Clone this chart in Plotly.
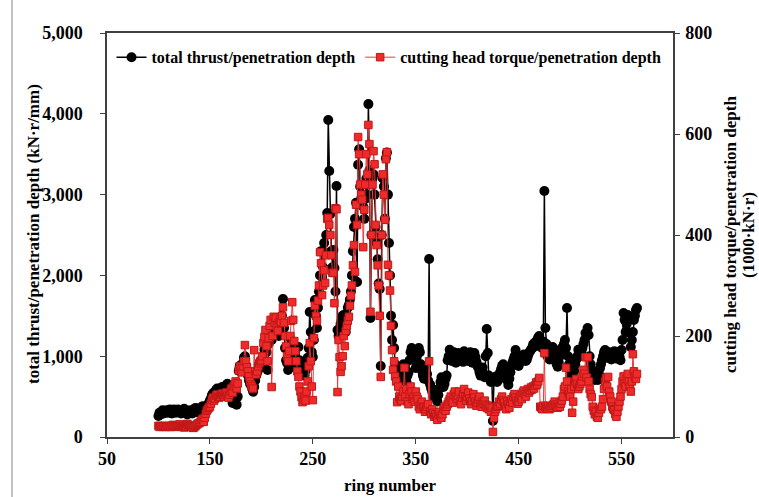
import plotly.graph_objects as go

rings = list(range(100, 566))

thrust = [
    260, 300, 280, 310, 330, 290, 300, 320, 330, 300,
    320, 340, 300, 290, 330, 340, 310, 300, 320, 340,
    320, 300, 290, 310, 330, 350, 320, 300, 280, 300,
    310, 330, 300, 290, 320, 340, 360, 330, 310, 300,
    320, 350, 370, 380, 360, 340, 350, 380, 400, 420,
    450, 480, 520, 540, 510, 560, 580, 600, 570, 540,
    560, 600, 620, 580, 560, 600, 640, 660, 620, 580,
    540, 500, 420, 450, 480, 560, 400, 500, 820, 880,
    860, 900, 840, 980, 1000, 880, 820, 760, 700, 660,
    640, 600, 560, 620, 700, 760, 800, 840, 900, 860,
    900, 920, 1000, 1080, 1200, 1050, 830, 1150, 1250, 1320,
    1200, 1280, 1350, 1300, 1400, 1448, 1350, 1250, 1300, 1400,
    1500, 1708, 1350, 1100, 950, 915, 830, 900, 1050, 1200,
    1150, 1050, 950, 900, 860, 920, 1114, 950, 880, 850,
    830, 800, 760, 820, 900, 980, 1100, 1547, 1300, 1050,
    990, 1200, 1695, 1500, 1350, 1600, 1800, 2000, 2300, 1980,
    2100, 2400, 2277, 2500, 2772, 3923, 3292, 2760, 2300, 2100,
    2314, 2092, 1800, 3106, 1324, 1250, 1300, 1400, 1450, 1500,
    1510, 1400, 1300, 1500, 1600, 1634, 1700, 1800, 2000, 2300,
    2600, 2700, 2900, 1918, 3370, 3560, 3100, 2950, 3000, 2850,
    2700, 2950, 3200, 3000, 4120, 3300, 1473, 2500, 3200, 3250,
    3000, 2600, 2400, 2200, 1900, 1832, 879, 2500, 3200, 3100,
    2700, 3450, 3520, 3000, 2400, 2000, 1500, 1200, 1386, 1100,
    900, 850, 820, 792, 760, 700, 750, 800, 900, 850,
    720, 680, 760, 800, 950, 1050, 1100, 1000, 1080, 950,
    854, 1000, 1077, 1100, 1050, 900, 820, 760, 720, 800,
    866, 780, 700, 2203, 650, 600, 560, 495, 520, 582,
    470, 440, 520, 600, 680, 740, 700, 620, 660, 720,
    760, 950, 1000, 1080, 990, 940, 1020, 1050, 980, 920,
    1000, 1040, 980, 950, 1010, 990, 930, 1060, 1020, 960,
    1000, 940, 980, 1050, 1010, 920, 960, 1040, 990, 930,
    880, 850, 800, 760, 820, 860, 780, 740, 1000, 1337,
    1040, 760, 720, 680, 700, 198, 690, 720, 750, 680,
    700, 760, 800, 840, 880, 900, 860, 820, 780, 700,
    644, 720, 800, 880, 920, 960, 1000, 1077, 980, 900,
    880, 920, 960, 940, 1000, 1020, 980, 940, 960, 1000,
    1040, 1060, 1080, 1100, 1140, 1160, 1120, 1180, 1200, 1230,
    1250, 1200, 1150, 1100, 1180, 3044, 1349, 1150, 1000, 980,
    960, 1000, 1050, 1114, 1080, 1000, 940, 900, 870, 920,
    1000, 1050, 1100, 1080, 1150, 1200, 1100, 1597, 1000, 900,
    780, 700, 680, 740, 820, 900, 960, 1000, 1080, 1050,
    1000, 1050, 1100, 1150, 1200, 1287, 1250, 1349, 1262, 1000,
    900, 820, 760, 720, 705, 740, 760, 705, 780, 850,
    900, 950, 1000, 1050, 1077, 1000, 980, 1020, 1050, 1000,
    960, 1000, 1040, 1060, 1000, 970, 1020, 1050, 1000, 950,
    1077, 1200, 1535, 1450, 1300, 1400, 1510, 1448, 1287, 1114,
    1200, 1300, 1448, 1500, 1572, 1597,
]

torque = [
    22, 20, 22, 21, 20, 21, 22, 20, 21, 22,
    20, 21, 20, 22, 24, 22, 21, 20, 22, 23,
    24, 25, 22, 20, 21, 19, 20, 23, 26, 24,
    22, 21, 20, 19, 18, 20, 22, 24, 26, 27,
    28, 30, 34, 36, 30, 38, 46, 52, 55, 58,
    60, 66, 74, 78, 72, 76, 82, 84, 80, 78,
    80, 84, 86, 82, 80, 84, 88, 82, 78, 84,
    90, 96, 88, 100, 104, 110, 96, 106, 132, 140,
    136, 128, 140, 150, 182, 150, 138, 130, 120, 110,
    104, 100, 96, 172, 130, 124, 130, 140, 146, 150,
    152, 160, 186, 198, 212, 180, 150, 196, 220, 232,
    99, 200, 238, 226, 236, 220, 210, 226, 232, 228,
    240, 257, 226, 200, 180, 160, 150, 170, 200, 230,
    267, 232, 190, 170, 150, 130, 119, 100, 90, 79,
    69, 75, 80, 72, 90, 110, 140, 186, 150, 100,
    73, 196, 260, 240, 230, 270, 300, 366, 344, 281,
    300, 330, 305, 360, 432, 434, 420, 400, 360, 325,
    325, 265, 453, 451, 89, 192, 158, 129, 140, 160,
    200, 180, 210, 220, 230, 238, 260, 280, 300, 340,
    380, 327, 460, 420, 594, 560, 500, 480, 470, 376,
    450, 500, 560, 520, 618, 580, 248, 400, 500, 566,
    540, 420, 380, 340, 300, 240, 119, 400, 520, 480,
    430, 550, 564, 341, 320, 290, 220, 172, 133, 150,
    120, 110, 69, 100, 80, 75, 72, 80, 90, 137,
    80, 95, 70, 65, 85, 100, 90, 75, 80, 70,
    90, 80, 75, 60, 55, 65, 70, 60, 58, 50,
    55, 60, 65, 150, 50, 45, 55, 48, 40, 45,
    40, 34, 45, 50, 42, 38, 45, 55, 60, 52,
    60, 65, 70, 75, 80, 72, 68, 85, 90, 80,
    75, 82, 90, 70, 65, 78, 85, 95, 80, 72,
    80, 88, 76, 70, 65, 72, 85, 78, 70, 62,
    68, 75, 80, 65, 60, 70, 66, 72, 64, 58,
    62, 55, 60, 50, 58, 10, 38, 50, 55, 60,
    62, 70, 65, 75, 80, 72, 68, 60, 55, 70,
    65, 58, 70, 75, 68, 80, 85, 78, 72, 66,
    70, 78, 82, 75, 88, 92, 85, 80, 90, 95,
    88, 92, 98, 94, 100, 96, 102, 108, 104, 110,
    117, 60, 58, 55, 62, 166, 60, 58, 56, 62,
    55, 60, 58, 62, 65, 70, 64, 60, 58, 66,
    60, 66, 72, 80, 95, 100, 137, 110, 90, 85,
    80, 95, 48, 70, 100, 110, 115, 105, 95, 100,
    105, 110, 120, 133, 125, 158, 118, 158, 110, 95,
    85, 79, 60, 52, 45, 50, 40, 38, 48, 56,
    55, 60, 75, 95, 110, 117, 100, 119, 90, 80,
    70, 60, 55, 53, 45, 40, 50, 60, 70, 80,
    95, 110, 120, 105, 100, 115, 125, 110, 100, 90,
    110, 164, 130, 120, 115, 125,
]

left_title = "total thrust/penetration depth (kN·r/mm)"
right_title_1 = "cutting head torque/penetration depth"
right_title_2 = "(1000·kN·r)"
x_title = "ring number"

FONT = "Liberation Serif, Times New Roman, serif"
AXC = "#404040"
PW, PH, ML, MT = 566, 404, 107, 33

fig = go.Figure()
fig.add_trace(go.Scatter(
    x=rings, y=thrust, name="total thrust/penetration depth",
    mode="lines+markers",
    line=dict(color="black", width=1.5),
    marker=dict(symbol="circle", size=10, color="black"),
    yaxis="y",
))
fig.add_trace(go.Scatter(
    x=rings, y=torque, name="cutting head torque/penetration depth",
    mode="lines+markers",
    line=dict(color="#e8393c", width=1),
    marker=dict(symbol="square", size=7.5, color="#ee2a2a",
                line=dict(color="#c01818", width=1)),
    yaxis="y2",
))

tickfont = dict(family=FONT, size=18, color="black", weight=700)
titlefont = dict(family=FONT, size=17, color="black", weight=700)

fig.update_layout(
    width=759, height=497,
    margin=dict(l=ML, r=86, t=MT, b=60, autoexpand=False),
    paper_bgcolor="white", plot_bgcolor="white",
    showlegend=True,
    legend=dict(orientation="h", x=0.008, y=0.982, xanchor="left", yanchor="top",
                font=dict(family=FONT, size=16, color="black", weight=700),
                bgcolor="rgba(0,0,0,0)", itemwidth=30, tracegroupgap=0),
    xaxis=dict(range=[50, 600], tick0=50, dtick=100, ticks="outside", ticklen=5,
               tickcolor=AXC, showline=True, linecolor=AXC, linewidth=1.5,
               mirror=True, showgrid=False, zeroline=False, automargin=False,
               tickfont=tickfont,
               title=dict(text=x_title, font=titlefont, standoff=11)),
    yaxis=dict(range=[0, 5000], dtick=1000, tickformat=",d", ticks="outside",
               ticklen=5, tickcolor=AXC, showline=True, linecolor=AXC,
               linewidth=1.5, showgrid=False, zeroline=False, tickfont=tickfont,
               ticklabelstandoff=14, automargin=False),
    yaxis2=dict(range=[0, 800], dtick=200, overlaying="y", side="right",
                ticks="outside", ticklen=5, tickcolor=AXC, showline=True,
                linecolor=AXC, linewidth=1.5, showgrid=False, zeroline=False,
                tickfont=tickfont, ticklabelstandoff=2, automargin=False),
)

def px_x(p):
    return (p - ML) / PW

def px_y(p):
    return 1 - (p - MT) / PH

for txt, xp, yp in [(left_title, 33, 234), (right_title_1, 730, 235),
                    (right_title_2, 748, 235)]:
    fig.add_annotation(text=txt, xref="paper", yref="paper", x=px_x(xp), y=px_y(yp),
                       xanchor="center", yanchor="middle", textangle=-90,
                       showarrow=False, font=titlefont)

# thin outer frame line at the left of the picture
fig.add_shape(type="line", xref="paper", yref="paper",
              x0=px_x(12), x1=px_x(12), y0=px_y(497), y1=px_y(0),
              line=dict(color="#888888", width=1))

fig.write_html("out.html")
